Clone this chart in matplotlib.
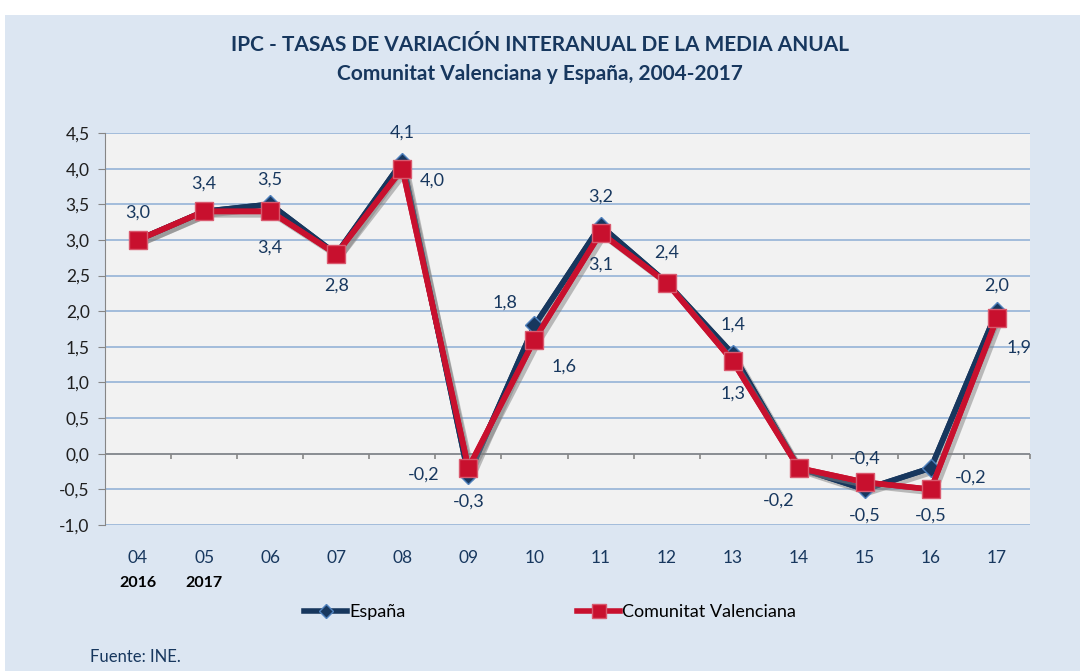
import matplotlib
matplotlib.use("Agg")
import matplotlib.pyplot as plt
import matplotlib.patheffects as pe
from matplotlib.patches import Rectangle
import numpy as np

# Datos
years = ["04", "05", "06", "07", "08", "09", "10", "11", "12", "13", "14", "15", "16", "17"]
espana = [3.0, 3.4, 3.5, 2.8, 4.1, -0.3, 1.8, 3.2, 2.4, 1.4, -0.2, -0.5, -0.2, 2.0]
valencia = [3.0, 3.4, 3.4, 2.8, 4.0, -0.2, 1.6, 3.1, 2.4, 1.3, -0.2, -0.4, -0.5, 1.9]

# label offsets in pixels (None = no label)
esp_off = [(0, 27), (0, 28), (0, 25), (0, -31), (0, 29), (0, -27), (-30, 23), (0, 29), (0, 30), (0, 29),
           (-20, -33), (0, -26), (40, -10), (0, 26)]
val_off = [None, None, (0, -36), None, (30, -12), (-45, -7), (30, -27), (0, -32), None, (0, -33),
           None, (0, 24), (0, -26), (22, -29)]

plt.rcParams["font.family"] = ["Lato", "DejaVu Sans"]
navy = "#17375E"
red = "#C8102E"

fig = plt.figure(figsize=(10.8, 6.71), dpi=100)
fig.patches.append(Rectangle((5 / 1080, 0), 1, 1 - 15 / 671, transform=fig.transFigure,
                             facecolor="#DCE6F2", edgecolor="none", zorder=-10))

ax = fig.add_axes([105 / 1080, 1 - 525 / 671, 925 / 1080, 392 / 671])
ax.set_facecolor("#F2F2F2")

x = np.arange(len(years))
ax.set_xlim(-0.5, len(years) - 0.5)
ax.set_ylim(-1.0, 4.5)
yt = np.arange(-1.0, 4.51, 0.5)
ax.set_yticks(yt)
ax.set_yticklabels([f"{v:.1f}".replace(".", ",") for v in yt], fontsize=12.5, color="#1F1F1F")
ax.set_xticks(x)
ax.set_xticklabels(years, fontsize=12.5, color=navy)
ax.tick_params(axis="x", length=0, pad=18)
ax.tick_params(axis="y", length=5, color="#868686", pad=6)
for v in yt:
    ax.axhline(v, color="#95B3D7", lw=1.2, zorder=0)
for s in ["top", "right", "bottom"]:
    ax.spines[s].set_visible(False)
ax.spines["left"].set_color("#868686")

# zero axis with category ticks
ax.axhline(0, color="#868686", lw=1.2, zorder=1)
ax.vlines(x[:-1] + 0.5, -0.08, 0, color="#868686", lw=1.2, zorder=1)
ax.vlines([len(years) - 0.5], -0.08, 0, color="#868686", lw=1.2, zorder=1, clip_on=False)

# lines with shadow, then markers on top
shadow = [pe.SimpleLineShadow(offset=(2.5, -2.5), shadow_color="gray", alpha=0.5), pe.Normal()]
ax.plot(x, espana, color=navy, lw=4, zorder=3, path_effects=shadow)
ax.plot(x, valencia, color=red, lw=4, zorder=4, path_effects=shadow)
ax.plot(x, espana, color=navy, lw=4, marker="D", ms=9, mfc=navy, mec="#4F81BD", mew=1,
        label="España", zorder=3)
ax.plot(x, valencia, color=red, lw=4, marker="s", ms=13, mfc=red, mec="#D9596E", mew=1,
        label="Comunitat Valenciana", zorder=4)

for xi, v, off in zip(x, espana, esp_off):
    if off:
        ax.annotate(f"{v:.1f}".replace(".", ","), (xi, v), xytext=off, textcoords="offset pixels",
                    ha="center", va="center", fontsize=13, color=navy, zorder=5)
for xi, v, off in zip(x, valencia, val_off):
    if off:
        ax.annotate(f"{v:.1f}".replace(".", ","), (xi, v), xytext=off, textcoords="offset pixels",
                    ha="center", va="center", fontsize=13, color=navy, zorder=5)

# sub labels under first ticks
for xi, t in zip(x[:2], ["2016", "2017"]):
    ax.annotate(t, (xi, 0), xycoords=("data", "axes fraction"), xytext=(0, -58),
                textcoords="offset pixels", ha="center", va="center", fontsize=11.5,
                fontweight="bold", color="black")

fig.text(0.5, 1 - 45 / 671, "IPC - TASAS DE VARIACIÓN INTERANUAL DE LA MEDIA ANUAL",
         ha="center", va="center", fontsize=15, fontweight="bold", color=navy)
fig.text(0.5, 1 - 74 / 671, "Comunitat Valenciana y España, 2004-2017",
         ha="center", va="center", fontsize=15, fontweight="bold", color=navy)

fig.legend(loc="center", bbox_to_anchor=(550 / 1080, 1 - 612 / 671), ncol=2, frameon=False,
           fontsize=13, handlelength=2.4, handletextpad=0.1, columnspacing=9.5, markerscale=0.75)

fig.text(90 / 1080, 1 - 657 / 671, "Fuente: INE.", ha="left", va="center", fontsize=12, color=navy)

fig.savefig("out.png", dpi=100, facecolor="white")
